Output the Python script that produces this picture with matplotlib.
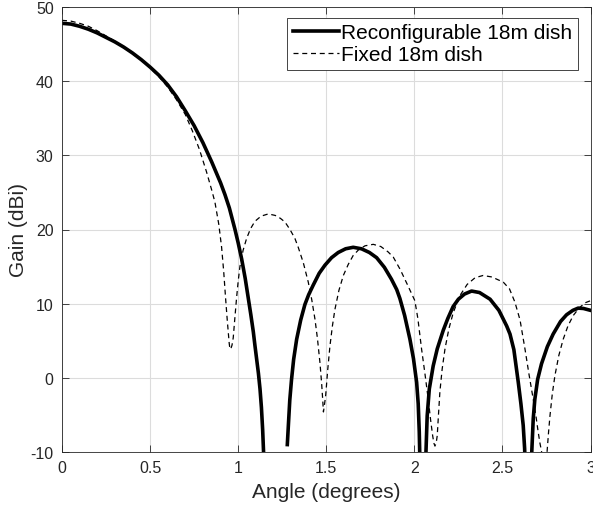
"""Antenna gain pattern: reconfigurable vs fixed 18m dish."""

import numpy as np
import matplotlib
matplotlib.use('Agg')
import matplotlib.pyplot as plt

nan = np.nan

# Reconfigurable 18m dish (solid) -- angle (deg), gain (dBi)
recon_angle = [0.00, 0.05, 0.10, 0.15, 0.20, 0.25, 0.30, 0.35, 0.40, 0.45,
               0.50, 0.55, 0.60, 0.65, 0.70, 0.75, 0.80, 0.85, 0.90, 0.925,
               0.95, 0.982, 1.00, 1.02, 1.04, 1.057, 1.072, 1.086, 1.095, 1.105,
               1.115, 1.124, 1.132, 1.139, 1.145, 1.15,
               1.20,
               1.279, 1.285, 1.293, 1.303, 1.315, 1.332, 1.355, 1.379, 1.40, 1.426,
               1.46, 1.493, 1.53, 1.568, 1.61, 1.653, 1.70, 1.745, 1.786, 1.83,
               1.87, 1.90, 1.918, 1.945, 1.975, 1.995, 2.013, 2.022, 2.028, 2.031,
               2.034, 2.063, 2.066, 2.073, 2.085, 2.107, 2.13, 2.164, 2.19, 2.22,
               2.25, 2.285, 2.325, 2.37, 2.43, 2.48, 2.524, 2.543, 2.565, 2.59,
               2.605, 2.618, 2.626, 2.63, 2.664, 2.667, 2.675, 2.684, 2.70, 2.722,
               2.755, 2.788, 2.83, 2.864, 2.90, 2.93, 2.96, 3.0]
recon_gain = [47.8, 47.7, 47.4, 47.0, 46.5, 45.9, 45.3, 44.6, 43.8, 42.9,
              41.9, 40.8, 39.5, 37.9, 36.0, 34.0, 31.7, 29.1, 26.3, 24.7,
              22.9, 20.0, 18.2, 16.0, 13.4, 10.8, 8.5, 6.2, 4.4, 2.5,
              0.6, -1.5, -4.0, -7.0, -10.5, -13.0,
              nan,
              -9.0, -6.4, -3.0, -0.2, 2.5, 5.2, 7.8, 9.9, 11.2, 12.5,
              14.1, 15.2, 16.2, 16.9, 17.4, 17.6, 17.4, 16.9, 16.2, 14.9,
              13.3, 11.9, 10.7, 8.4, 5.2, 2.6, -0.6, -3.5, -7.3, -10.5,
              -12.0, -12.0, -10.0, -5.1, -1.5, 1.6, 3.9, 6.4, 8.0, 9.6,
              10.6, 11.3, 11.7, 11.5, 10.6, 9.1, 7.0, 5.9, 3.8, -0.6,
              -3.5, -6.4, -9.5, -12.0, -12.0, -9.8, -5.5, -2.9, -0.2, 1.9,
              4.2, 5.9, 7.6, 8.5, 9.1, 9.4, 9.35, 9.1]

# Fixed 18m dish (dashed)
fixed_angle = [0.00, 0.05, 0.10, 0.15, 0.20, 0.25, 0.30, 0.35, 0.40, 0.45,
               0.50, 0.55, 0.60, 0.65, 0.70, 0.74, 0.78, 0.82, 0.85, 0.868,
               0.89, 0.906, 0.918, 0.929, 0.938, 0.944, 0.949, 0.953, 0.958, 0.965,
               0.972, 0.981, 0.991, 1.00, 1.01, 1.028, 1.048, 1.07, 1.095, 1.13,
               1.171, 1.21, 1.24, 1.266, 1.294, 1.322, 1.341, 1.37, 1.398, 1.418,
               1.436, 1.45, 1.464, 1.474, 1.48, 1.484, 1.489, 1.497, 1.508, 1.521,
               1.535, 1.549, 1.572, 1.597, 1.625, 1.653, 1.685, 1.72, 1.767, 1.81,
               1.85, 1.88, 1.92, 1.96, 2.003, 2.02, 2.041, 2.06, 2.079, 2.092,
               2.104, 2.111, 2.117, 2.124, 2.13, 2.137, 2.145, 2.158, 2.174, 2.196,
               2.221, 2.259, 2.30, 2.345, 2.39, 2.44, 2.505, 2.54, 2.571, 2.60,
               2.628, 2.65, 2.675, 2.69, 2.703, 2.713, 2.722, 2.726, 2.75, 2.754,
               2.762, 2.77, 2.783, 2.798, 2.82, 2.845, 2.872, 2.902, 2.935, 2.968,
               3.0]
fixed_gain = [48.2, 48.1, 47.8, 47.4, 46.8, 46.1, 45.4, 44.6, 43.7, 42.8,
              41.8, 40.6, 39.2, 37.5, 35.5, 33.3, 30.8, 27.8, 25.3, 23.7,
              20.7, 17.6, 14.3, 10.6, 7.8, 6.1, 4.7, 3.9, 3.9, 4.4,
              5.4, 8.0, 10.8, 13.0, 15.0, 17.2, 18.8, 20.1, 21.1, 21.8,
              22.1, 21.9, 21.5, 21.0, 20.0, 18.8, 17.6, 15.5, 12.9, 10.5,
              7.9, 5.3, 2.1, -0.8, -3.0, -4.6, -3.8, -2.3, 1.0, 4.3,
              7.0, 9.2, 11.8, 13.8, 15.3, 16.5, 17.3, 17.8, 18.0, 17.7,
              17.0, 16.3, 14.6, 12.6, 10.4, 8.0, 3.9, 0.6, -2.9, -5.6,
              -7.8, -8.8, -9.2, -8.8, -7.8, -5.0, -1.9, 1.2, 3.9, 6.6,
              8.8, 11.1, 12.6, 13.5, 13.8, 13.6, 12.9, 12.0, 10.2, 7.8,
              3.9, 0.6, -2.9, -5.1, -7.3, -8.8, -9.9, -12.0, -12.0, -9.8,
              -7.3, -5.1, -2.2, 0.3, 3.0, 5.2, 7.0, 8.4, 9.4, 10.1,
              10.4]

TXT = '#262626'

plt.rcParams['font.family'] = ['Liberation Sans', 'DejaVu Sans']
plt.rcParams['axes.unicode_minus'] = False

fig = plt.figure(figsize=(5.93, 5.10), dpi=100)
ax = fig.add_axes([62 / 593, 57 / 510, 528.5 / 593, 445 / 510])

ax.plot(recon_angle, recon_gain, '-', color='black', linewidth=2.6,
        label='Reconfigurable 18m dish')
ax.plot(fixed_angle, fixed_gain, '--', color='black', linewidth=0.9,
        dashes=(4, 3), label='Fixed 18m dish')

ax.set_xlim(0, 3)
ax.set_ylim(-10, 50)
ax.set_xticks([0, 0.5, 1, 1.5, 2, 2.5, 3])
ax.set_xticklabels(['0', '0.5', '1', '1.5', '2', '2.5', '3'])
ax.set_yticks([-10, 0, 10, 20, 30, 40, 50])

ax.grid(True, color='#dcdcdc', linewidth=0.8)
ax.set_axisbelow(True)
for s in ax.spines.values():
    s.set_color(TXT)
    s.set_linewidth(0.6)
ax.tick_params(direction='in', length=5, width=0.6, color=TXT,
               top=True, right=True, labelsize=11.5, labelcolor=TXT, pad=6)

ax.set_xlabel('Angle (degrees)', fontsize=15, color=TXT, labelpad=5)
ax.set_ylabel('Gain (dBi)', fontsize=15, color=TXT, labelpad=2)

leg = ax.legend(loc='upper right', bbox_to_anchor=(0.976, 0.975), borderaxespad=0,
                fontsize=15, handlelength=2.25, handletextpad=0.1, labelspacing=0.15,
                borderpad=0.25, fancybox=False, framealpha=1, edgecolor=TXT)
leg.get_frame().set_linewidth(0.6)

plt.savefig('out.png', dpi=100)
